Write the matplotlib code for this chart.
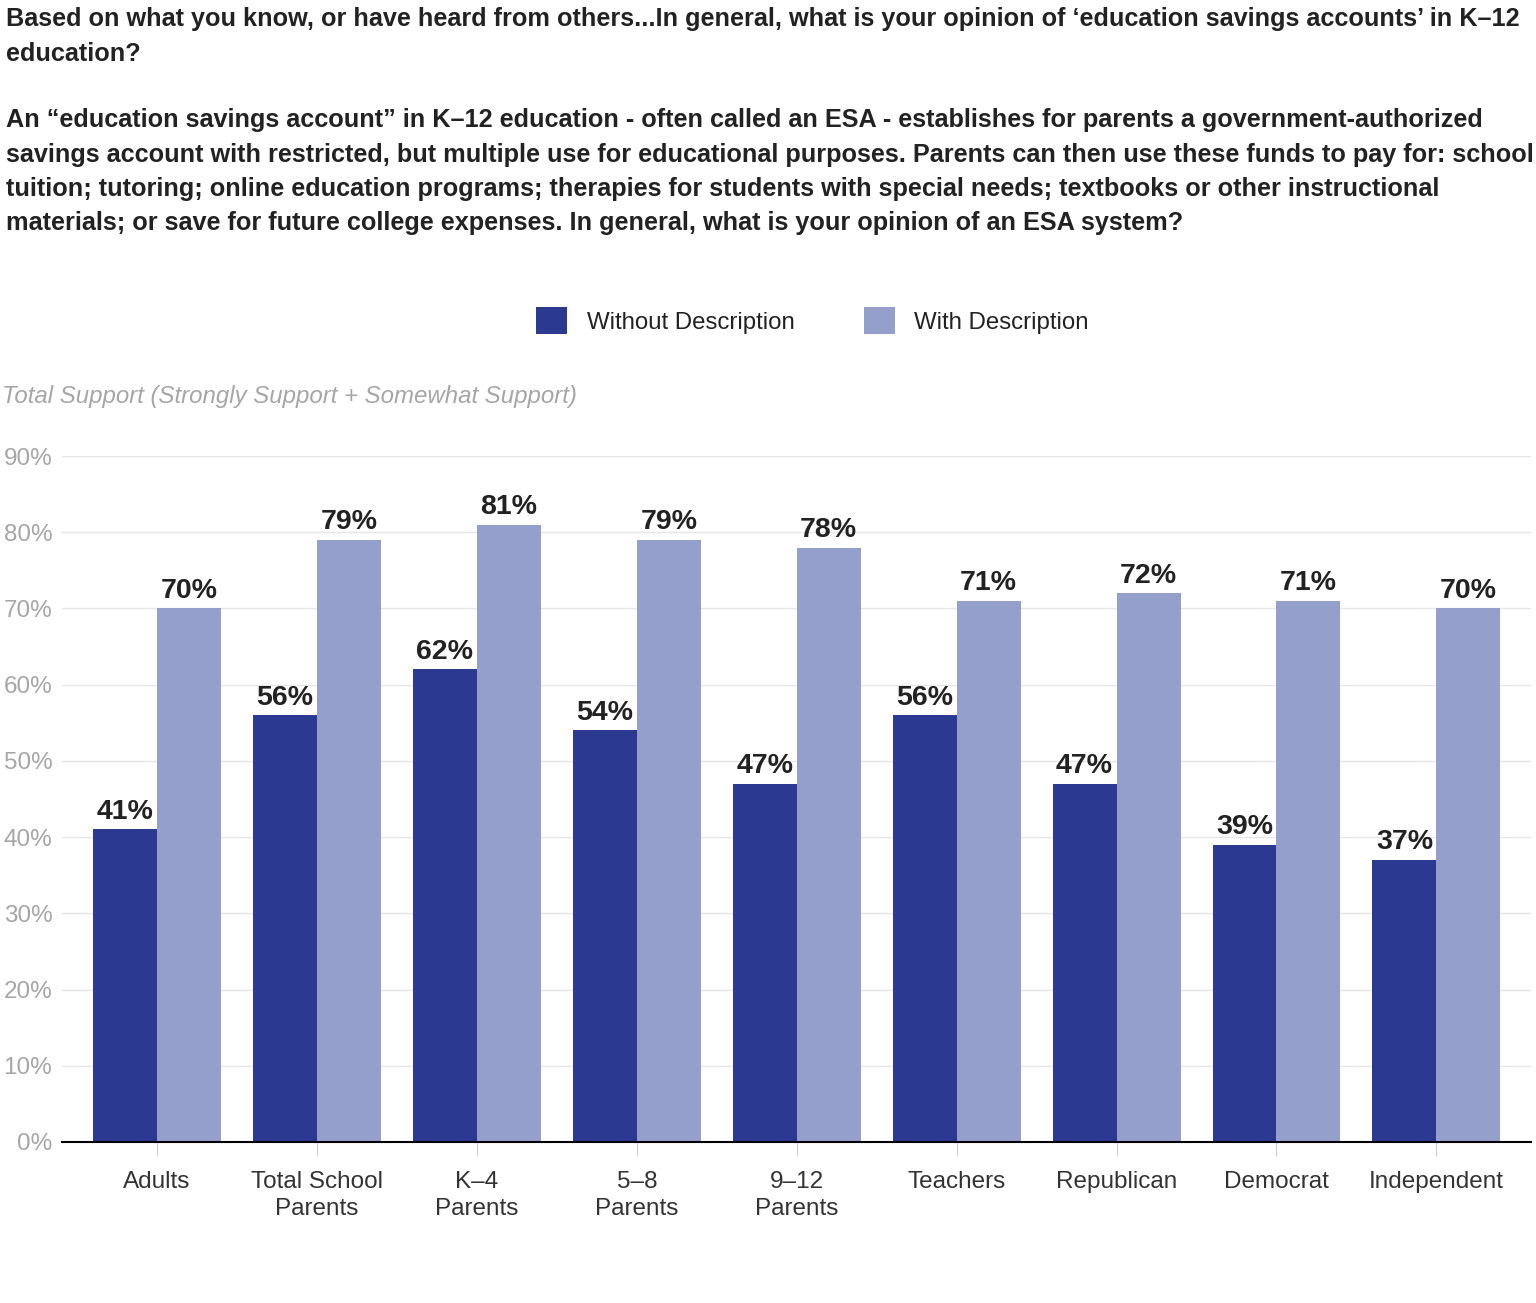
import matplotlib
matplotlib.use("Agg")
from matplotlib import pyplot as plt
from matplotlib.patches import Patch
import numpy as np

plt.rcParams['font.family'] = ['Liberation Sans', 'DejaVu Sans']

categories = ["Adults", "Total School\nParents", "K\u20134\nParents", "5\u20138\nParents",
              "9\u201312\nParents", "Teachers", "Republican", "Democrat", "Independent"]
without_desc = [41, 56, 62, 54, 47, 56, 47, 39, 37]
with_desc = [70, 79, 81, 79, 78, 71, 72, 71, 70]
series_names = ["Without Description", "With Description"]
yticks = [0, 10, 20, 30, 40, 50, 60, 70, 80, 90]

dark = "#2b3990"
light = "#959fcb"

question = ("Based on what you know, or have heard from others...In general, what is your opinion of "
            "\u2018education savings accounts\u2019 in K\u201312\neducation?")
description = ("An \u201ceducation savings account\u201d in K\u201312 education - often called an ESA - "
               "establishes for parents a government-authorized\n"
               "savings account with restricted, but multiple use for educational purposes. Parents can "
               "then use these funds to pay for: school\n"
               "tuition; tutoring; online education programs; therapies for students with special needs; "
               "textbooks or other instructional\n"
               "materials; or save for future college expenses. In general, what is your opinion of an ESA system?")

fig = plt.figure(figsize=(15.36, 13.03), dpi=100)
ax = fig.add_axes([0.0404, 0.1236, 0.9566, 0.5264])

x = np.arange(len(categories))
w = 0.4
b1 = ax.bar(x - w / 2, without_desc, w, color=dark, zorder=2)
b2 = ax.bar(x + w / 2, with_desc, w, color=light, zorder=2)

for bars, vals in ((b1, without_desc), (b2, with_desc)):
    for r, v in zip(bars, vals):
        ax.text(r.get_x() + r.get_width() / 2, v + 0.6, f"{v}%", ha="center", va="bottom",
                fontsize=20.5, fontweight="bold", color="#222222")

ax.set_xlim(-0.594, len(categories) - 1 + 0.594)
ax.set_ylim(0, 90)
ax.set_yticks(yticks)
ax.set_yticklabels([f"{t}%" for t in yticks])
ax.set_xticks(x)
ax.set_xticklabels(categories, fontsize=17.5, color="#333333", linespacing=1.3)
ax.tick_params(axis="y", length=0, labelsize=17.5, labelcolor="#a6a6a6", pad=7)
ax.tick_params(axis="x", length=10, color="#cccccc", pad=11)
ax.grid(axis="y", color="#e6e6e6", linewidth=1, zorder=0)
for s in ("top", "right", "left"):
    ax.spines[s].set_visible(False)
ax.spines["bottom"].set_color("black")
ax.spines["bottom"].set_linewidth(1.5)
ax.spines["bottom"].set_zorder(3)

fig.text(0.004, 0.9945, question, ha="left", va="top", fontsize=18.2, fontweight="bold",
         color="#222222", linespacing=1.55)
fig.text(0.004, 0.917, description, ha="left", va="top", fontsize=18.2, fontweight="bold",
         color="#222222", linespacing=1.55)
fig.text(0.001, 0.696, "Total Support (Strongly Support + Somewhat Support)", ha="left",
         va="center", fontsize=17.3, style="italic", color="#a6a6a6")

handles = [Patch(facecolor=dark), Patch(facecolor=light)]
fig.legend(handles, series_names, loc="center", bbox_to_anchor=(0.529, 0.754), ncol=2,
           frameon=False, fontsize=17.3, handlelength=1.3, handleheight=1.3,
           columnspacing=2.9, handletextpad=0.8, labelcolor="#222222")

plt.savefig("out.png", dpi=100)
